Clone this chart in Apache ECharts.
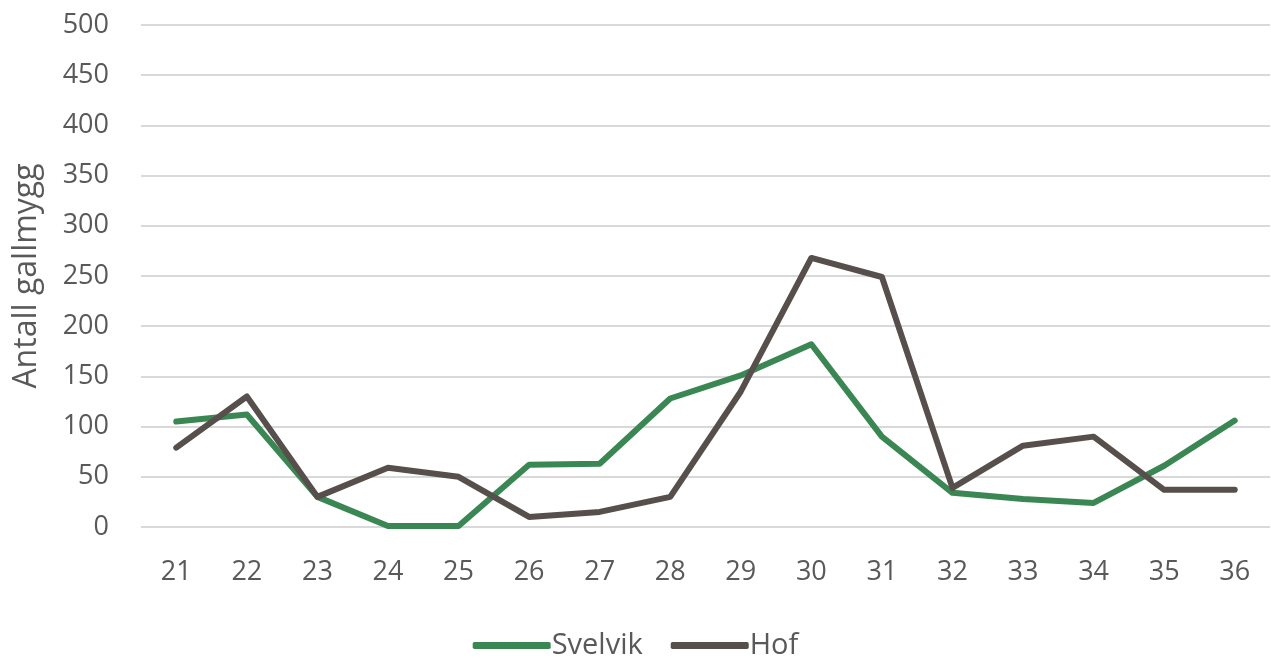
<!DOCTYPE html>
<html>
<head>
<meta charset="utf-8">
<script src="https://cdn.jsdelivr.net/npm/echarts@6/dist/echarts.min.js"></script>
<style>
  html, body { margin: 0; padding: 0; background: #fff; }
  #main { width: 1271px; height: 662px; }
</style>
</head>
<body>
<div id="main"></div>
<script>
// uker (x-akse)
var weeks = ['21', '22', '23', '24', '25', '26', '27', '28', '29', '30', '31', '32', '33', '34', '35', '36'];
// antall gallmygg per uke
var svelvik = [105, 112, 30, 1, 1, 62, 63, 128, 151, 182, 90, 34, 28, 24, 61, 106];
var hof = [79, 130, 30, 59, 50, 10, 15, 30, 135, 268, 249, 39, 81, 90, 37, 37];

var myChart = echarts.init(document.getElementById('main'));

var font = 'Open Sans';
var textColor = '#595959';

var option = {
  animation: false,
  grid: {
    left: 141,
    right: 1,
    top: 25,
    bottom: 135
  },
  legend: {
    bottom: -3,
    left: 'center',
    itemWidth: 78,
    itemHeight: 7,
    itemGap: 28,
    icon: 'roundRect',
    textStyle: { fontFamily: font, fontSize: 29, color: textColor, padding: [0, 0, 0, -4] },
    data: ['Svelvik', 'Hof']
  },
  xAxis: {
    type: 'category',
    data: weeks,
    boundaryGap: true,
    axisLine: { show: false },
    axisTick: { show: false },
    axisLabel: { fontFamily: font, fontSize: 27, color: textColor, margin: 32 }
  },
  yAxis: {
    type: 'value',
    min: 0,
    max: 500,
    interval: 50,
    name: 'Antall gallmygg',
    nameLocation: 'middle',
    nameGap: 98,
    nameTextStyle: { fontFamily: font, fontSize: 32, color: textColor },
    axisLine: { show: false },
    axisTick: { show: false },
    axisLabel: { fontFamily: font, fontSize: 27, color: textColor, margin: 32 },
    splitLine: { lineStyle: { color: '#d9d9d9', width: 2 } }
  },
  series: [
    {
      name: 'Svelvik',
      type: 'line',
      data: svelvik,
      symbol: 'none',
      lineStyle: { color: '#3a8754', width: 6, cap: 'round', join: 'round' },
      itemStyle: { color: '#3a8754' }
    },
    {
      name: 'Hof',
      type: 'line',
      data: hof,
      symbol: 'none',
      lineStyle: { color: '#574f4b', width: 6, cap: 'round', join: 'round' },
      itemStyle: { color: '#574f4b' }
    }
  ]
};

myChart.setOption(option);
</script>
</body>
</html>
